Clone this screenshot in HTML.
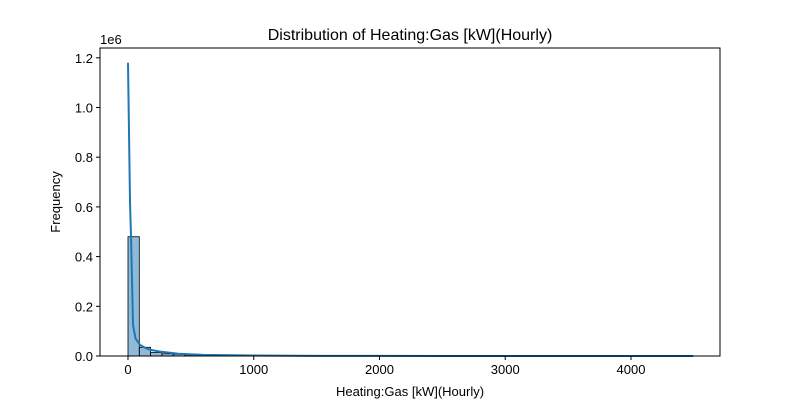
<!DOCTYPE html>
<html><head><meta charset="utf-8"><style>
body{margin:0;background:#fff;font-family:"Liberation Sans","DejaVu Sans",sans-serif}
</style></head><body>
<svg id="chart" width="800" height="400" xmlns="http://www.w3.org/2000/svg" font-family="'Liberation Sans','DejaVu Sans',sans-serif">
<rect width="800" height="400" fill="#fff"/>
<text x="410" y="40" font-size="16" text-anchor="middle">Distribution of Heating:Gas [kW](Hourly)</text>
<text x="410" y="396" font-size="13" text-anchor="middle">Heating:Gas [kW](Hourly)</text>
<text x="0" y="0" font-size="13" text-anchor="middle" transform="translate(60,202) rotate(-90)">Frequency</text>
<text x="100" y="44" font-size="13">1e6</text>
<g id="bars"></g><g id="kde"></g><g id="axes"></g>
</svg>
<script>
const binCounts=[480000,35000,14000,9000,7000,4500,3000,2200,1500,1200,900,700,600,500,400,350,300,250,200,180,150,130,120,100,90,80,70,60,50,45,40,35,30,28,25,22,20,18,16,14,12,10,9,8,7,6,5,4,3,3];
const binStart=0, binEnd=4495;
const kdeX=[0,8,16,24,40,60,95,140,175,250,400,600,1000,1500,2500,4495];
const kdeY=[1180000,900000,620000,480000,125000,70000,45000,32000,25000,18000,9000,4500,1800,700,200,50];
const xTicks=[0,1000,2000,3000,4000];
const yTicks=[0,0.2,0.4,0.6,0.8,1.0,1.2];
const L=100,R=720,T=48,B=356;
const xs=v=>128+v*0.12575;
const ys=v=>B-v/1e6*248.5;
const NS="http://www.w3.org/2000/svg";
function mk(t,a,p){const e=document.createElementNS(NS,t);for(const k in a)e.setAttribute(k,a[k]);p.appendChild(e);return e;}
const bars=document.getElementById('bars');
const bw=(binEnd-binStart)/binCounts.length;
binCounts.forEach((c,i)=>{
 const x0=xs(binStart+i*bw),x1=xs(binStart+(i+1)*bw);
 const r=mk('rect',{x:x0,y:ys(c),width:x1-x0,height:B-ys(c),fill:'rgba(31,119,180,0.5)',stroke:'#000','stroke-width':0.8},bars);
 
 
});
const kde=document.getElementById('kde');
const p=mk('polyline',{points:kdeX.map((x,i)=>xs(x)+','+ys(kdeY[i])).join(' '),fill:'none',stroke:'#1f77b4','stroke-width':2},kde);


const ax=document.getElementById('axes');
const fr=mk('rect',{x:L,y:T,width:R-L,height:B-T,fill:'none',stroke:'#000','stroke-width':1},ax);


xTicks.forEach(v=>{
 mk('line',{x1:xs(v),x2:xs(v),y1:B,y2:B+4,stroke:'#000'},ax);
 const t=mk('text',{x:xs(v),y:B+18,'font-size':13,'text-anchor':'middle'},ax);t.textContent=v;
 
 
});
yTicks.forEach(v=>{
 const y=ys(v*1e6);
 mk('line',{x1:L-4,x2:L,y1:y,y2:y,stroke:'#000'},ax);
 const t=mk('text',{x:L-7,y:y+5,'font-size':13,'text-anchor':'end'},ax);t.textContent=v.toFixed(1);
 
 
});
</script>
</body></html>
